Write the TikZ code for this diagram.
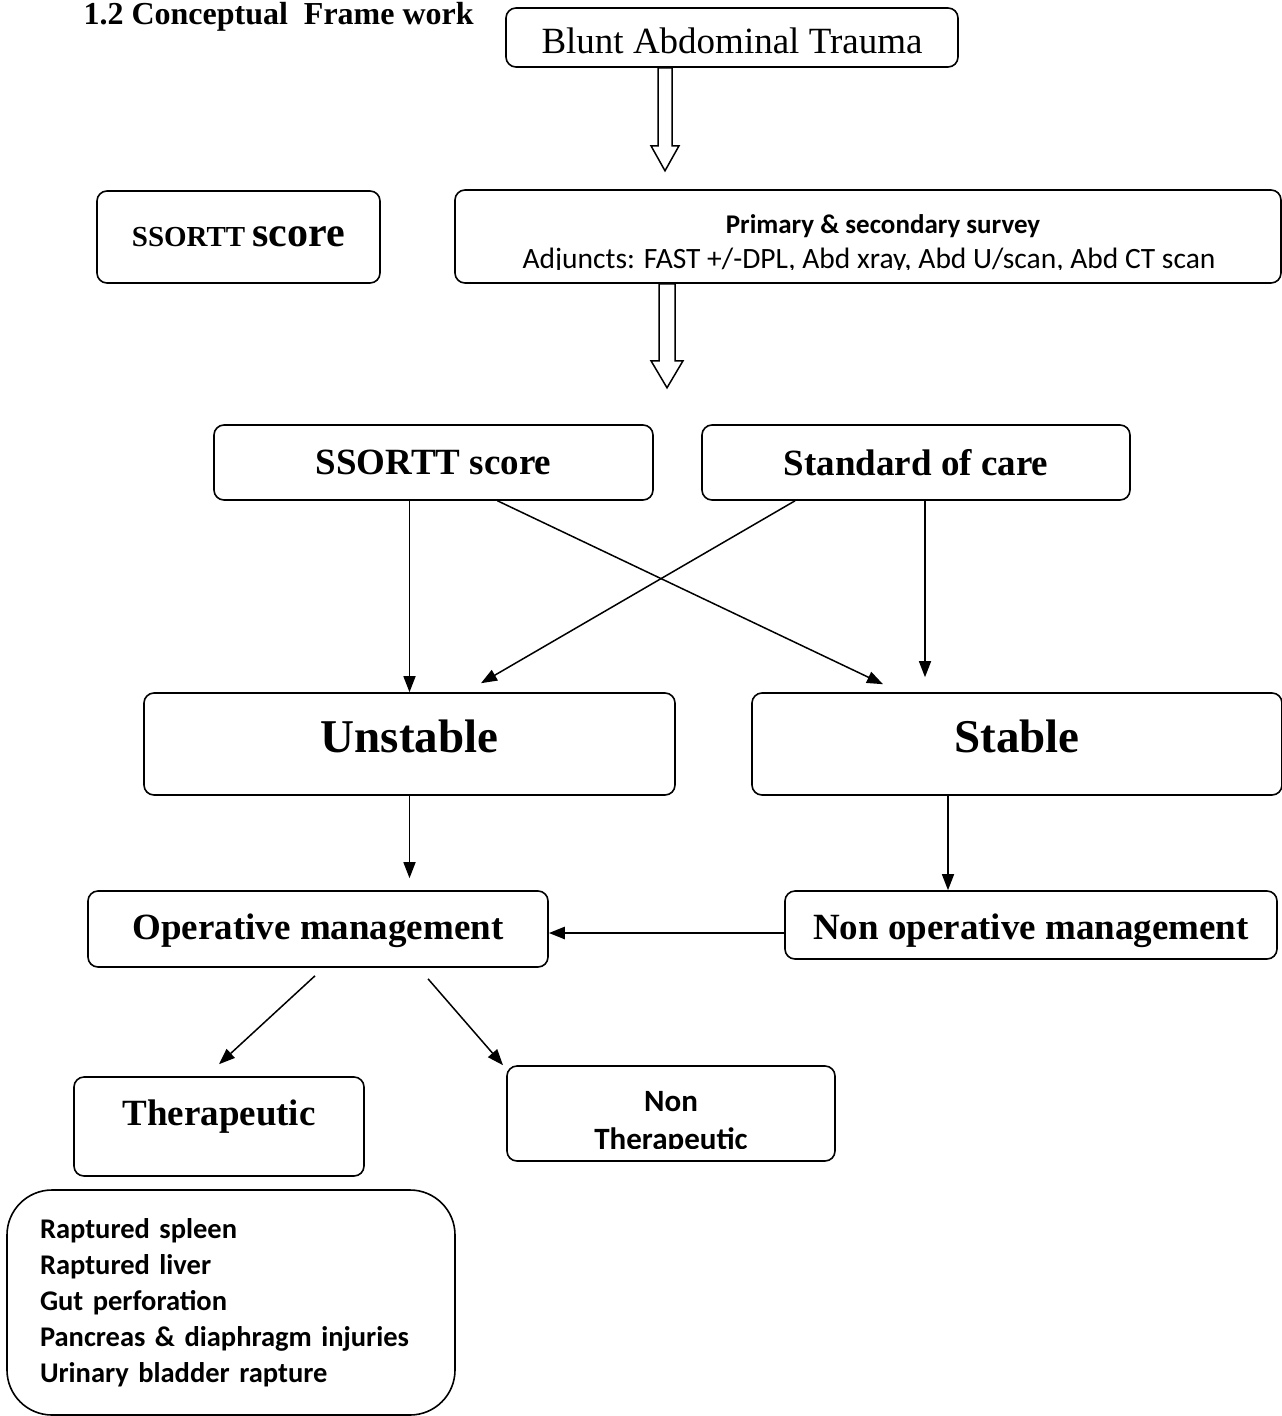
\documentclass[tikz,border=0pt]{standalone}
\usepackage{fontspec}
\setmainfont{Liberation Serif}
\newfontfamily\calibri{Carlito}
\usetikzlibrary{arrows.meta}

\begin{document}
\begin{tikzpicture}[
        x=1pt, y=-1pt,
        box/.style={draw, rounded corners=10pt, line width=1.6pt, inner sep=0pt, align=center},
        arrow/.style={-{Triangle[length=16pt, width=12pt]}, line width=1.5pt},
        hollow/.style={draw, line width=1.5pt, fill=white, line join=miter},
        ttl/.style={font=\bfseries\fontsize{32}{36}\selectfont},
        big/.style={font=\bfseries\fontsize{37}{42}\selectfont},
        hugetext/.style={font=\bfseries\fontsize{47}{52}\selectfont},
        cal/.style={font=\calibri\fontsize{29.5}{34}\selectfont},
        calb/.style={font=\calibri\bfseries\fontsize{28.5}{36}\selectfont}
    ]
        \useasboundingbox (0,0) rectangle (1282,1416);

        % Title and first boxes
        \node[ttl, anchor=base west] (title) at (80,24) {1.2 Conceptual\ \ Frame work};
        \node[box, font=\fontsize{37}{42}\selectfont, minimum width=452pt, text height=45pt, text depth=14pt] (blunt) at (732,37.5) {Blunt Abdominal Trauma};
        \node[box, minimum width=283pt, minimum height=92pt] (sscore) at (238.5,237) {\bfseries\fontsize{29}{34}\selectfont SSORTT \fontsize{42}{46}\selectfont score};
        \node[box, minimum width=826pt, minimum height=93pt] (survey) at (868,236.5) {};
        \node[calb, font=\calibri\bfseries\fontsize{27}{32}\selectfont, anchor=base] (surveyhead) at (883,233) {Primary \& secondary survey};
        \begin{scope}
            \clip (survey.north west) rectangle (1282,269);
            \node[cal, anchor=base] (surveynote) at (869,268) {Adjuncts: FAST +/-DPL, Abd xray, Abd U/scan, Abd CT scan};
        \end{scope}

        % Hollow arrows
        \coordinate (h1) at ([xshift=-67pt]blunt.south);
        \coordinate (h2) at ([xshift=-201pt]survey.south);
        \draw[hollow] (h1) ++(-7,0) -- ++(0,78) -- ++(-7,0) -- ++(14,25) -- ++(14,-25) -- ++(-7,0) -- ++(0,-78) -- cycle;
        \draw[hollow] (h2) ++(-8,0) -- ++(0,77) -- ++(-8,0) -- ++(16,27) -- ++(16,-27) -- ++(-8,0) -- ++(0,-77) -- cycle;

        % Scores and status
        \node[box, big, minimum width=439pt, minimum height=75pt] (ssortt) at (433.5,462.5) {SSORTT score};
        \node[box, big, minimum width=428pt, minimum height=75pt] (care) at (916,462.5) {Standard of care};
        \node[box, hugetext, minimum width=531pt, text height=59pt, text depth=43pt] (unstable) at (409.5,744) {Unstable};
        \node[box, hugetext, minimum width=530pt, text height=59pt, text depth=43pt] (stable) at (1017,744) {Stable};

        % Management
        \node[box, big, minimum width=460pt, text height=48pt, text depth=28pt] (operative) at (318,929) {Operative management};
        \node[box, big, minimum width=492pt, text height=48pt, text depth=20pt] (nonop) at (1031,925) {Non operative management};
        \node[box, big, minimum width=290pt, text height=48pt, text depth=51pt] (therap) at (219,1126.5) {Therapeutic};
        \node[box, minimum width=328pt, minimum height=95pt] (nontherap) at (671,1113.5) {};
        \node[calb, font=\calibri\bfseries\fontsize{31}{36}\selectfont, anchor=base] (nonword) at (671,1111) {Non};
        \begin{scope}
            \clip (nontherap.north west) rectangle (835,1148);
            \node[calb, font=\calibri\bfseries\fontsize{31}{36}\selectfont, anchor=base] (nontherapword) at (671,1149) {Therapeutic};
        \end{scope}
        \node[box, calb, rounded corners=45pt, minimum width=448pt, minimum height=225pt, text width=382pt, align=left] (injuries) at (231,1302.5)
            {Raptured spleen\\Raptured liver\\Gut perforation\\Pancreas \& diaphragm injuries\\Urinary bladder rapture};

        % Arrows
        \draw[arrow] (ssortt.south -| unstable.north) -- (unstable.north);
        \draw[arrow] ([xshift=64pt]ssortt.south) -- ([xshift=-134pt,yshift=8pt]stable.north);
        \draw[arrow] ([xshift=-121pt]care.south) -- ([xshift=71.5pt,yshift=9pt]unstable.north);
        \draw[arrow] ([xshift=9pt]care.south) -- ([xshift=-92pt,yshift=15pt]stable.north);
        \draw[arrow, shorten >=12pt] (unstable.south) -- (unstable.south |- operative.north);
        \draw[arrow] ([xshift=-69pt]stable.south) -- ([xshift=-69pt]stable.south |- nonop.north);
        \draw[arrow, line width=2.5pt] ([yshift=-8pt]nonop.west) -- ([yshift=-8pt]nonop.west -| operative.east);
        \draw[arrow] ([xshift=-3pt,yshift=-8pt]operative.south) -- ([yshift=12pt]therap.north);
        \draw[arrow] ([xshift=110pt,yshift=-11pt]operative.south) -- ([xshift=-168pt]nontherap.north);

    \end{tikzpicture}
\end{document}
